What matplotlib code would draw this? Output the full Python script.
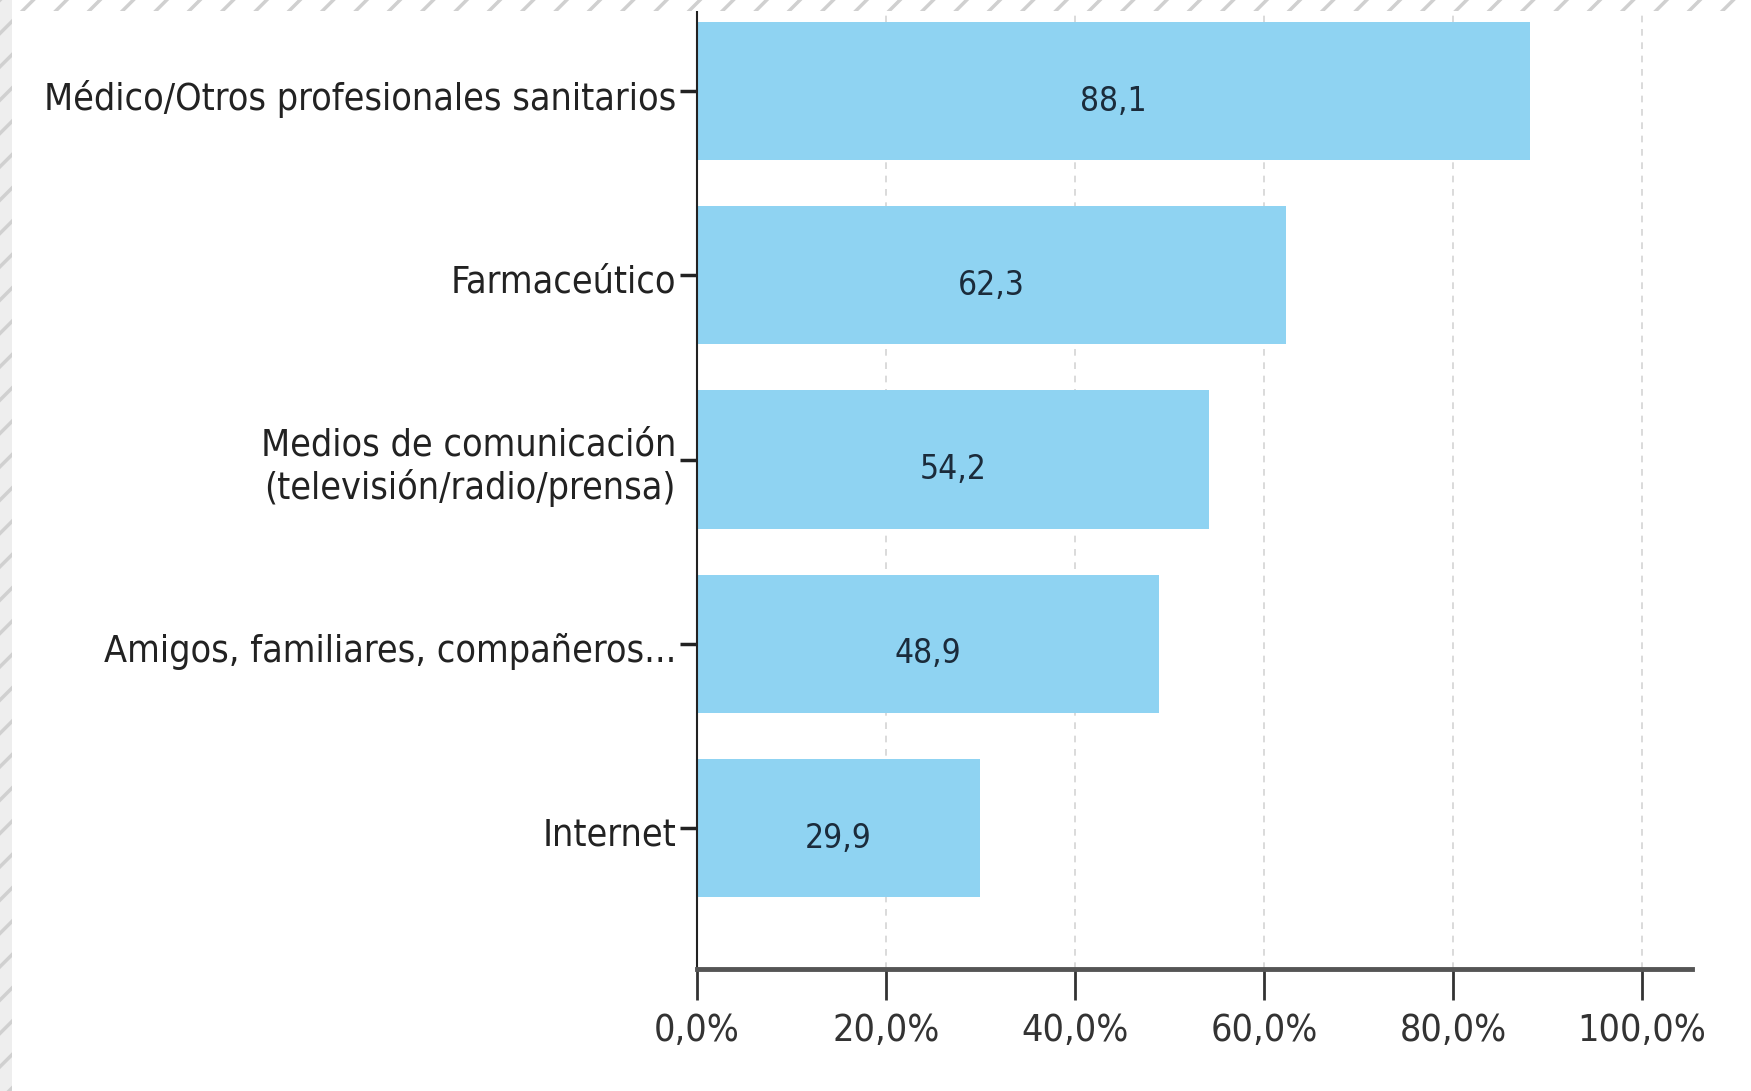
import matplotlib
matplotlib.use("Agg")
import matplotlib.pyplot as plt
from matplotlib.patches import Rectangle
from matplotlib.transforms import ScaledTranslation, blended_transform_factory

categories = ["Médico/Otros profesionales sanitarios", "Farmaceútico",
              "Medios de comunicación\n(televisión/radio/prensa)",
              "Amigos, familiares, compañeros...", "Internet"]
values = [88.1, 62.3, 54.2, 48.9, 29.9]
value_labels = ["88,1", "62,3", "54,2", "48,9", "29,9"]
xticks = [0, 20, 40, 60, 80, 100]
xtick_labels = ["0,0%", "20,0%", "40,0%", "60,0%", "80,0%", "100,0%"]

FONT = dict(family="DejaVu Sans", stretch="condensed")
plt.rcParams["hatch.linewidth"] = 2.5
fig = plt.figure(figsize=(17.51, 10.91), dpi=100)
fig.patch.set_facecolor("white")

# hatched border strips
fig.patches.append(Rectangle((0, 0.99), 1, 0.01, transform=fig.transFigure, facecolor="white",
                             edgecolor="#d0d0d0", hatch="/", linewidth=0, zorder=0))
fig.patches.append(Rectangle((0, 0), 0.0068, 1, transform=fig.transFigure, facecolor="#eeeeee",
                             edgecolor="#d0d0d0", hatch="/", linewidth=0, zorder=0))

ax = fig.add_axes([0.398, 0.1118, 0.5684, 0.878])
ypos = list(range(len(categories)))
ax.barh(ypos, values, height=0.75, color="#8fd3f2", zorder=2)
ax.set_ylim(4.765, -0.434)
ax.set_xlim(0, 105.3)
ax.set_yticks(ypos)
ax.set_yticklabels([])
ax.set_xticks(xticks)
ax.set_xticklabels(xtick_labels, fontsize=27, color="#333333", **FONT)

# category labels (left of the axis, slightly below tick centre as in the original)
lab_tr = blended_transform_factory(ax.transAxes, ax.transData) + \
    ScaledTranslation(-0.21, -0.075, fig.dpi_scale_trans)
for y, cat in zip(ypos, categories):
    ax.text(0, y, cat, ha="right", va="center", fontsize=27, color="#222222",
            transform=lab_tr, linespacing=1.2, **FONT)

down_v = ScaledTranslation(0, -0.1, fig.dpi_scale_trans)
for y, v, lab in zip(ypos, values, value_labels):
    ax.text(v / 2, y, lab, ha="center", va="center", fontsize=24, color="#1b2b3b",
            zorder=3, transform=ax.transData + down_v, **FONT)

ax.grid(axis="x", linestyle=(0, (4, 4)), color="#d4d4d4", linewidth=1.2, zorder=1)
ax.set_axisbelow(True)
for s in ["top", "right"]:
    ax.spines[s].set_visible(False)
ax.spines["left"].set_color("#222222")
ax.spines["left"].set_linewidth(1.5)
ax.spines["bottom"].set_color("#555555")
ax.spines["bottom"].set_linewidth(3.5)
ax.tick_params(axis="y", length=12, width=2.5, color="#222222", pad=2)
ax.tick_params(axis="x", length=22, width=2, color="#333333", pad=10)
ax.set_facecolor("white")

fig.savefig("out.png", dpi=100)
